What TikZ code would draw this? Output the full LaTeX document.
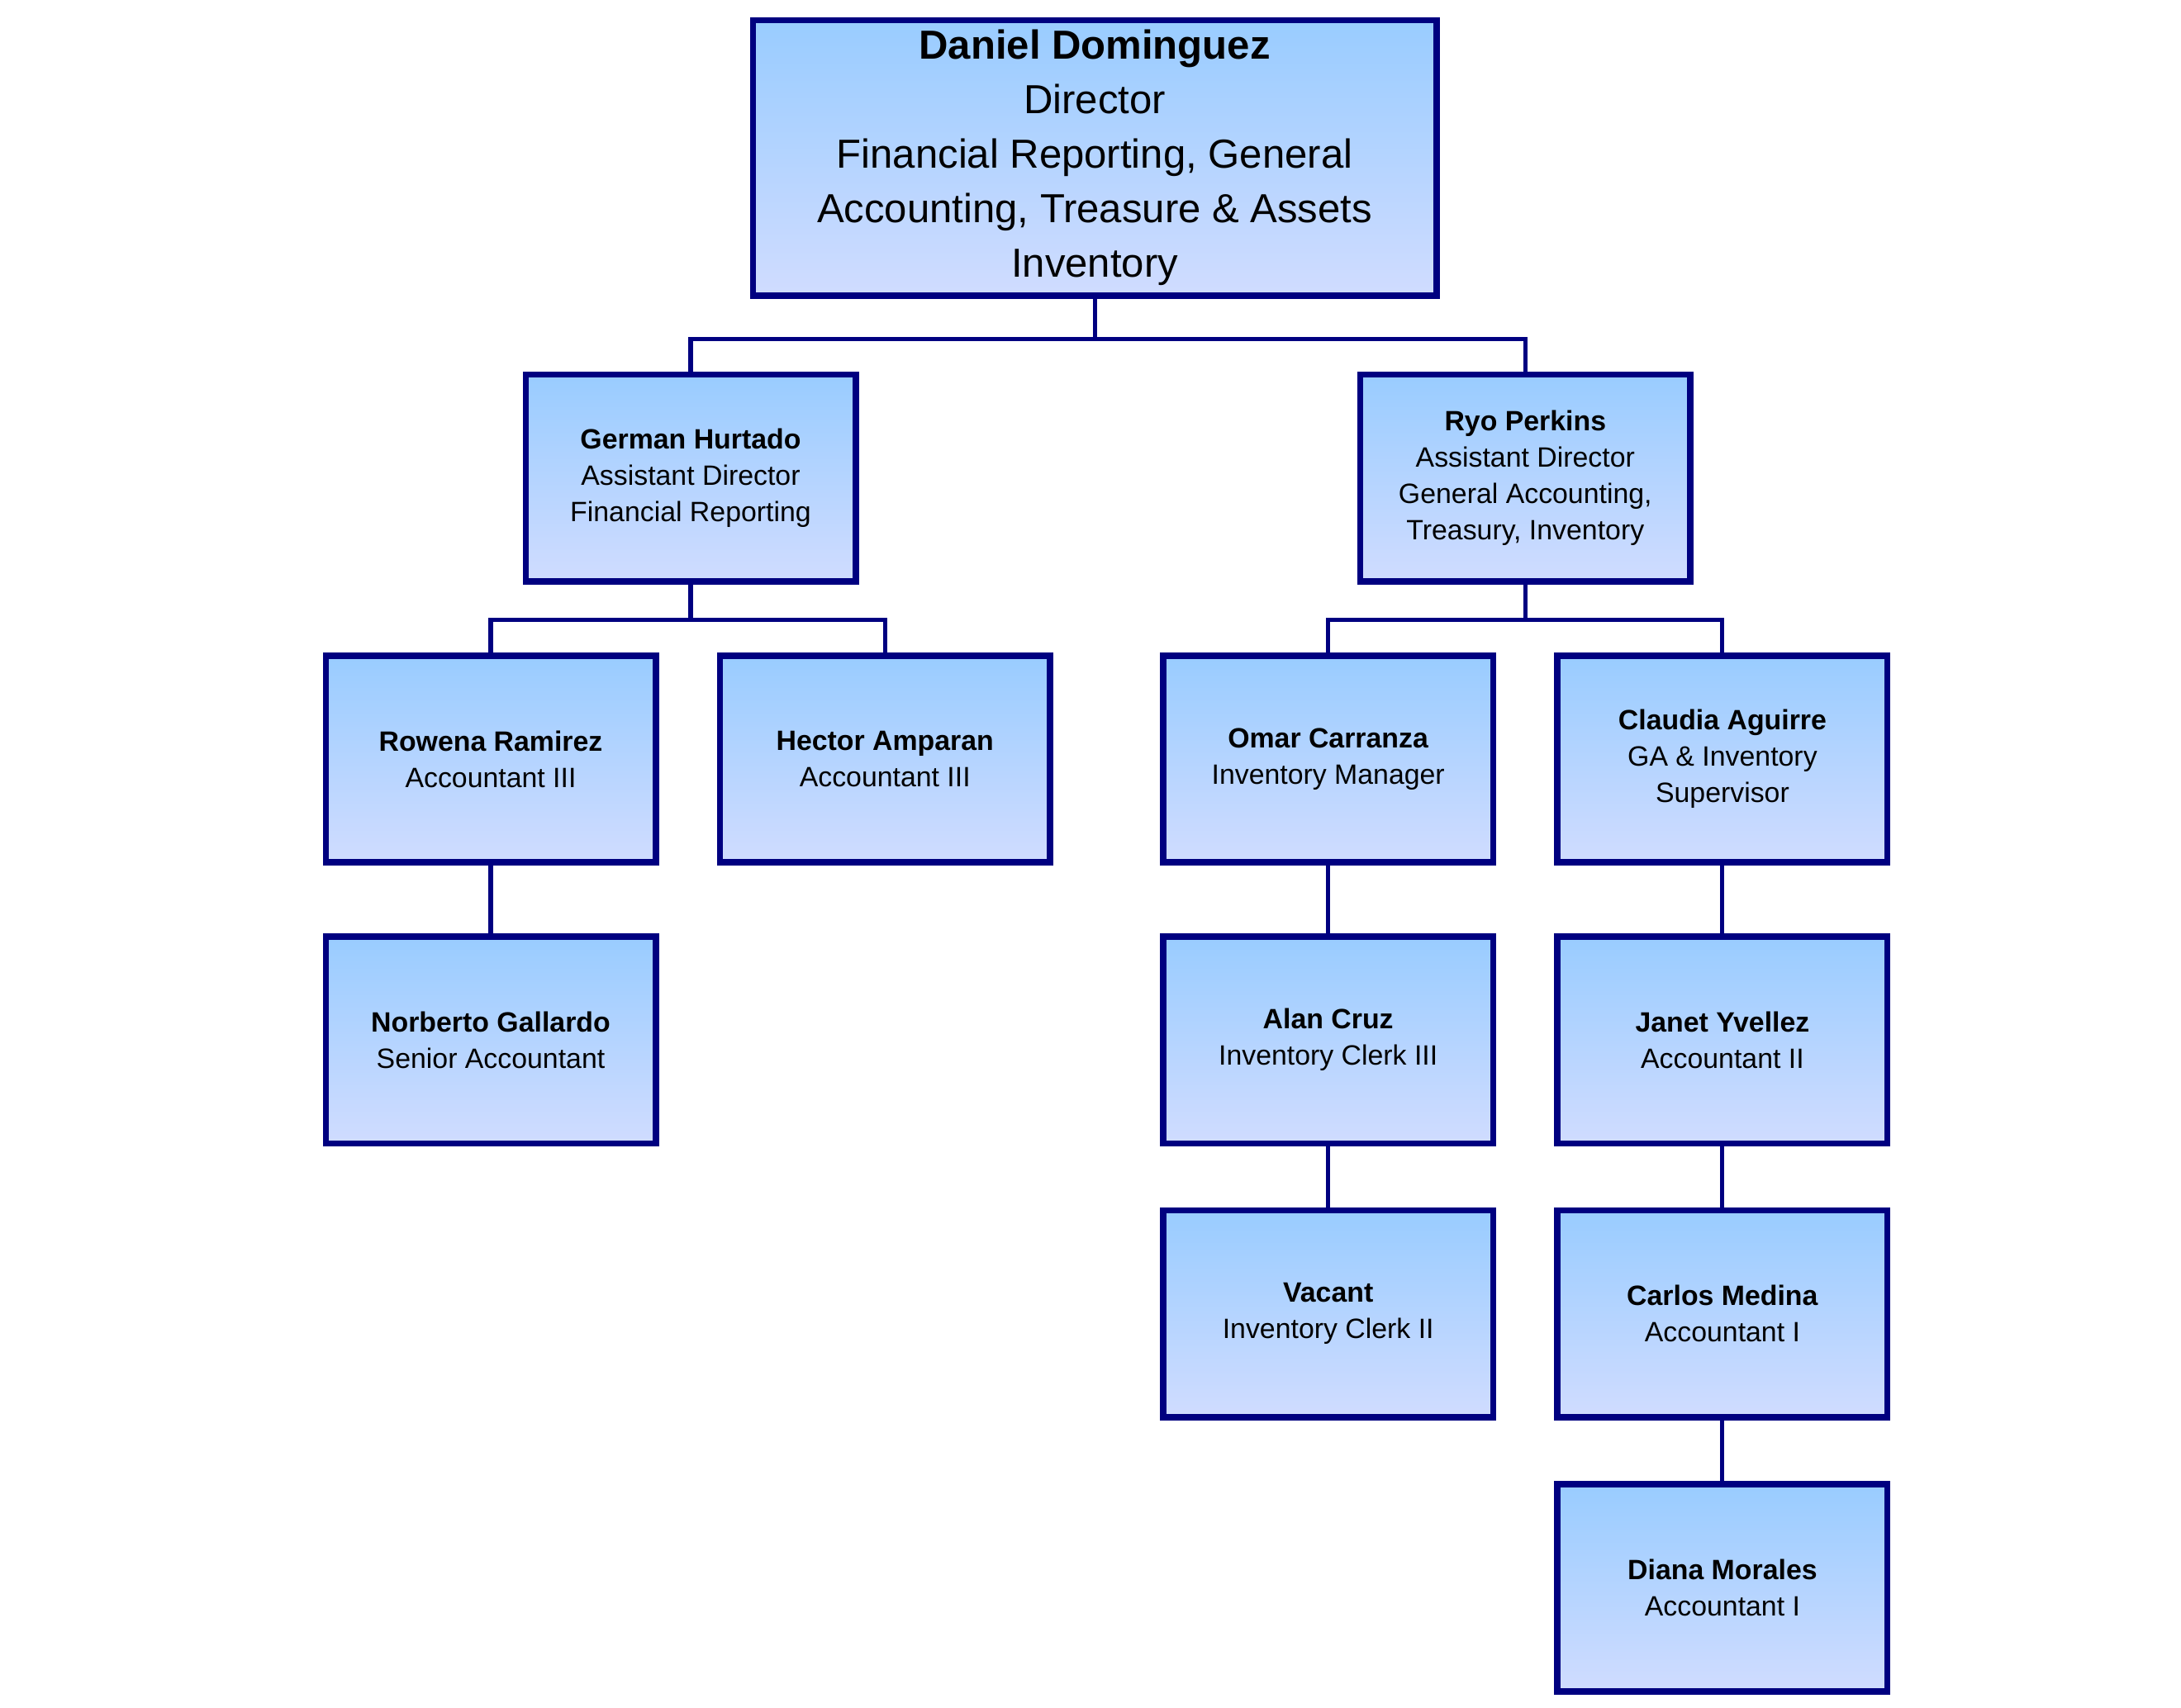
\documentclass[tikz,border=0pt]{standalone}
\usepackage{fontspec}
\setmainfont{Liberation Sans}
\begin{document}
\begin{tikzpicture}[x=1pt,y=-1pt,
    every node/.style = {draw=navyblue, line width=4.5pt, rectangle,
        top color=topblue, bottom color=botblue, align=center},
    person/.style = {minimum width=236pt, minimum height=148pt,
        font=\fontsize{20}{26}\selectfont},
    boss/.style = {minimum width=489pt, minimum height=197pt,
        font=\fontsize{29}{39}\selectfont},
    link/.style = {draw=navyblue, line width=3pt}
  ]
  \definecolor{navyblue}{HTML}{000080}
  \definecolor{topblue}{HTML}{99CCFF}
  \definecolor{botblue}{HTML}{D0DCFF}
  \useasboundingbox (0,0) rectangle (1560,1222);
  \node[boss] (dd) at (783,113) {\textbf{Daniel Dominguez}\\Director\\Financial Reporting, General\\Accounting, Treasure \& Assets\\Inventory};
  \node[person] (gh) at (494,342) {\textbf{German Hurtado}\\Assistant Director\\Financial Reporting};
  \node[person] (rp) at (1091,342) {\textbf{Ryo Perkins}\\Assistant Director\\General Accounting,\\Treasury, Inventory};
  \node[person] (rr) at (351,543) {\textbf{Rowena Ramirez}\\Accountant III};
  \node[person] (ha) at (633,543) {\textbf{Hector Amparan}\\Accountant III};
  \node[person] (oc) at (950,543) {\textbf{Omar Carranza}\\Inventory Manager};
  \node[person] (ca) at (1232,543) {\textbf{Claudia Aguirre}\\GA \& Inventory\\Supervisor};
  \node[person] (ng) at (351,744) {\textbf{Norberto Gallardo}\\Senior Accountant};
  \node[person] (ac) at (950,744) {\textbf{Alan Cruz}\\Inventory Clerk III};
  \node[person] (jy) at (1232,744) {\textbf{Janet Yvellez}\\Accountant II};
  \node[person] (va) at (950,940) {\textbf{Vacant}\\Inventory Clerk II};
  \node[person] (cm) at (1232,940) {\textbf{Carlos Medina}\\Accountant I};
  \node[person] (dm) at (1232,1136) {\textbf{Diana Morales}\\Accountant I};
  % connectors
  \draw[link] (dd.south) -- ++(0,29) -| (gh.north);
  \draw[link] (dd.south) -- ++(0,29) -| (rp.north);
  \draw[link] (gh.south) -- ++(0,25) -| (rr.north);
  \draw[link] (gh.south) -- ++(0,25) -| (ha.north);
  \draw[link] (rp.south) -- ++(0,25) -| (oc.north);
  \draw[link] (rp.south) -- ++(0,25) -| (ca.north);
  \draw[link] (rr) -- (ng);
  \draw[link] (oc) -- (ac);
  \draw[link] (ac) -- (va);
  \draw[link] (ca) -- (jy);
  \draw[link] (jy) -- (cm);
  \draw[link] (cm) -- (dm);
\end{tikzpicture}
\end{document}
